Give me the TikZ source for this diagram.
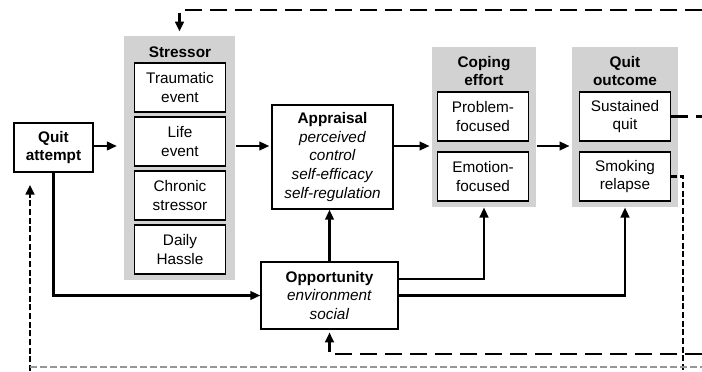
\documentclass[tikz,border=0pt]{standalone}
\usepackage{fontspec}
\setmainfont{Liberation Sans}
\usetikzlibrary{arrows.meta}

\tikzset{every picture/.style={line width=0.75pt}}
\tikzset{
  box/.style={draw, line width=1.1pt, fill=white, align=center, inner sep=0pt, font=\fontsize{11.5}{14}\selectfont},
  item/.style={box, minimum width=68pt, minimum height=36.75pt},
  panel/.style={fill={rgb, 255:red, 210; green, 210; blue, 210 }, inner sep=0pt},
  title/.style={align=center, inner sep=0pt, font=\fontsize{11.5}{14}\selectfont\bfseries},
  link/.style={line width=1.6pt, -{Triangle[length=7.5pt,width=6.5pt]}},
  fb/.style={line width=2pt, dash pattern=on 12.75pt off 6pt},
  fbv/.style={line width=2.2pt, dash pattern=on 4.5pt off 2pt},
  faint/.style={draw={rgb, 255:red, 150; green, 150; blue, 150 }, line width=1.2pt, dash pattern=on 5pt off 2.5pt},
}

\begin{document}
\begin{tikzpicture}[x=0.75pt,y=0.75pt,yscale=-1,xscale=1]
\useasboundingbox (0,0) rectangle (702,371);

%Quit attempt
\node (quit) [box, minimum width=59.25pt, minimum height=36.75pt] at (53.5,147.5) {\textbf{Quit}\\\textbf{attempt}};

%Stressor panel
\node (stress) [panel, minimum width=83.25pt, minimum height=183pt] at (179.5,158) {};
\node (stresst) [title] at (180,52) {Stressor};
\node (trauma) [item] at (180,87.5) {Traumatic\\event};
\node (life) [item] at (180,141.5) {Life\\event};
\node (chronic) [item] at (180,195.5) {Chronic\\stressor};
\node (hassle) [item] at (180,249.5) {Daily\\Hassle};

%Appraisal
\node (appr) [box, minimum width=90.75pt, minimum height=78pt] at (332.5,157) {\textbf{Appraisal}\\\textit{perceived}\\\textit{control}\\\textit{self-efficacy}\\\textit{self-regulation}};

%Opportunity
\node (opp) [box, minimum width=102.75pt, minimum height=50.25pt] at (329.5,295.5) {\textbf{Opportunity}\\\textit{environment}\\\textit{social}};

%Coping effort panel
\node (coping) [panel, minimum width=78pt, minimum height=120pt] at (484,127) {};
\node (copingt) [title] at (484,71) {Coping\\effort};
\node (problem) [item] at (483,116.5) {Problem-\\focused};
\node (emotion) [item] at (483,176.5) {Emotion-\\focused};

%Quit outcome panel
\node (outcome) [panel, minimum width=79.5pt, minimum height=120pt] at (625,127) {};
\node (outcomet) [title] at (625,71) {Quit\\outcome};
\node (sust) [item] at (625,116.5) {Sustained\\quit};
\node (relapse) [item] at (625,176.5) {Smoking\\relapse};

% Connectors
\coordinate (row) at (0,146);
\coordinate (hi) at (0,279);
\draw [link, shorten >=5pt] (quit.east |- row) -- (stress.west |- row);
\draw [link, shorten >=1.5pt] (stress.east |- row) -- (appr.west |- row);
\draw [link, shorten >=1.5pt] (appr.east |- row) -- (coping.west |- row);
\draw [link, shorten >=1.5pt] (coping.east |- row) -- (outcome.west |- row);
\draw [link] (opp.north) -- (opp.north |- appr.south);
\draw [link] (opp.east |- hi) -| (coping.south);
\draw [link] (opp.east) -| (outcome.south);
\draw [link] (quit.south) |- (opp.west);

% Feedback (dashed)
\coordinate (topR) at (702,10);
\coordinate (sustR) at (702,117);
\coordinate (relX) at (683,371);
\coordinate (botR) at (702,354);
\coordinate (leftB) at (30,371);
\coordinate (faintL) at (30,367);
\coordinate (faintR) at (702,367);
\draw [fb, -{Triangle[length=7.5pt,width=6.5pt]}, shorten >=3pt] (topR) -- (topR -| stress.north) -- (stress.north);
\draw [fb] (sust.east) -- (sust.east -| sustR);
\draw [fbv] (relapse.east) -- (relapse.east -| relX) -- (relX);
\draw [fb, -{Triangle[length=7.5pt,width=6.5pt]}, shorten >=2pt] (botR) -- (botR -| opp.south) -- (opp.south);
\draw [fbv, -{Triangle[length=7.5pt,width=6.5pt]}, shorten >=9pt] (leftB) -- (leftB |- quit.south);
\draw [faint] (faintL) -- (faintR);

\end{tikzpicture}
\end{document}
